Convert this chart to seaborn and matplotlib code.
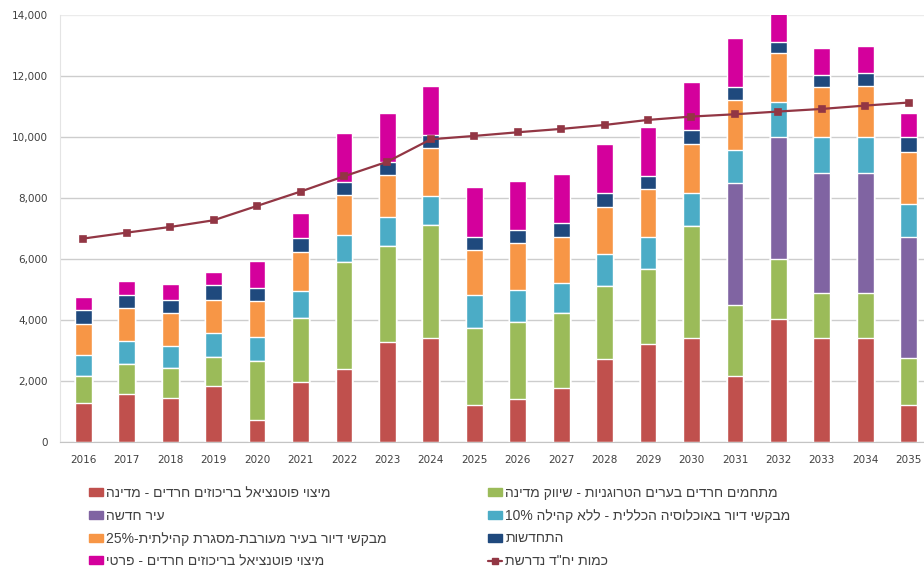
import re
import matplotlib
matplotlib.use("Agg")
import matplotlib.pyplot as plt
import seaborn as sns
from matplotlib.patches import Patch
from matplotlib.lines import Line2D
from matplotlib.ticker import FuncFormatter

# =============================================================================
#                              DATA
# =============================================================================
years = [str(y) for y in range(2016, 2036)]

state     = [1280, 1585, 1465, 1860, 730, 1990, 2390, 3280, 3410, 1225,
             1410, 1770, 2730, 3225, 3430, 2175, 4035, 3430, 3430, 1225]
hetero    = [895, 985, 985, 950, 1950, 2090, 3510, 3170, 3715, 2515,
             2545, 2460, 2395, 2450, 3665, 2325, 1965, 1480, 1480, 1530]
new_city  = [0, 0, 0, 0, 0, 0, 0, 0, 0, 0,
             0, 0, 0, 0, 0, 4015, 4025, 3930, 3930, 3965]
general   = [690, 755, 710, 785, 765, 890, 900, 930, 950, 1090,
             1040, 1005, 1050, 1045, 1090, 1070, 1145, 1160, 1180, 1095]
mixed     = [1005, 1070, 1070, 1070, 1190, 1255, 1310, 1385, 1565, 1475,
             1530, 1510, 1555, 1575, 1595, 1640, 1585, 1640, 1665, 1715]
renewal   = [470, 435, 435, 495, 435, 465, 435, 440, 435, 440,
             435, 460, 455, 450, 460, 415, 385, 405, 415, 470]
private   = [435, 470, 515, 435, 875, 825, 1585, 1605, 1605, 1615,
             1620, 1595, 1595, 1585, 1585, 1605, 960, 875, 895, 810]
required  = [6680, 6875, 7060, 7280, 7750, 8220, 8720, 9200, 9935, 10045,
             10165, 10275, 10405, 10570, 10680, 10755, 10845, 10930, 11040, 11140]

lbl_state   = "מיצוי פוטנציאל בריכוזים חרדים - מדינה"
lbl_newcity = "עיר חדשה"
lbl_mixed   = "מבקשי דיור בעיר מעורבת-מסגרת קהילתית-25%"
lbl_private = "מיצוי פוטנציאל בריכוזים חרדים - פרטי"
lbl_hetero  = "מתחמים חרדים בערים הטרוגניות - שיווק מדינה"
lbl_general = "מבקשי דיור באוכלוסיה הכללית - ללא קהילה 10%"
lbl_renewal = "התחדשות"
lbl_req     = 'כמות יח"ד נדרשת'

c_state, c_hetero, c_newcity = "#c0504d", "#9bbb59", "#8064a2"
c_general, c_mixed, c_renewal = "#4bacc6", "#f79646", "#1f497d"
c_private, c_line = "#d4009c", "#923644"


def rtl(s):
    # matplotlib has no bidi: flip the string, keep number runs readable
    r = s[::-1]
    return re.sub(r"[0-9%]+", lambda m: m.group(0)[::-1], r)


# =============================================================================
#                              PLOT
# =============================================================================
sns.set_style("white")
plt.rcParams["font.family"] = ["DejaVu Sans"]

fig = plt.figure(figsize=(9.24, 5.70), dpi=100)
ax = fig.add_axes([60 / 924, 1 - 442.3 / 570, 872 / 924, 427 / 570])

series = [state, hetero, new_city, general, mixed, renewal, private]
colors = [c_state, c_hetero, c_newcity, c_general, c_mixed, c_renewal, c_private]

# cumulative tops, drawn tallest first so the segments stack
cum = []
run = [0] * len(years)
for s in series:
    run = [a + b for a, b in zip(run, s)]
    cum.append(run)

for tops, col in reversed(list(zip(cum, colors))):
    sns.barplot(x=years, y=tops, color=col, saturation=1, width=0.385,
                errorbar=None, ax=ax, zorder=2)

sns.pointplot(x=years, y=required, color=c_line, marker="s", markersize=4.5,
              linewidth=1.6, errorbar=None, ax=ax, zorder=4)

ax.set_xlim(-0.536, 19.536)
ax.set_ylim(0, 14000)
ax.set_yticks(range(0, 14001, 2000))
ax.yaxis.set_major_formatter(FuncFormatter(lambda v, p: f"{int(v):,}"))
ax.set_xlabel("")
ax.set_ylabel("")
ax.yaxis.grid(True, color="#cdcdcd", linewidth=1)
ax.set_axisbelow(True)
ax.get_ygridlines()[-1].set_color("#ebebeb")
for sp in ["top", "right"]:
    ax.spines[sp].set_visible(False)
ax.spines["left"].set_color("#e4e4e4")
ax.spines["bottom"].set_color("#c4c4c4")
ax.tick_params(axis="y", length=0, pad=9, labelsize=7.5, labelcolor="#404040")
ax.tick_params(axis="x", length=0, pad=9, labelsize=7.5, labelcolor="#404040")

# legend in two columns, like the original
left_items = [(c_state, lbl_state), (c_newcity, lbl_newcity),
              (c_mixed, lbl_mixed), (c_private, lbl_private)]
right_items = [(c_hetero, lbl_hetero), (c_general, lbl_general),
               (c_renewal, lbl_renewal)]

leg_kw = dict(loc="upper left", frameon=False, handlelength=1.0,
              handleheight=0.5, handletextpad=0.25, labelspacing=0.63,
              borderpad=0, borderaxespad=0, labelcolor="#404040",
              prop={"family": ["Liberation Sans", "DejaVu Sans"], "size": 10})

h1 = [Patch(color=c) for c, _ in left_items]
fig.legend(h1, [rtl(t) for _, t in left_items],
           bbox_to_anchor=(89 / 924, 1 - 486 / 570), **leg_kw)

h2 = [Patch(color=c) for c, _ in right_items]
h2.append(Line2D([], [], color=c_line, marker="s", markersize=4, linewidth=1.6))
fig.legend(h2, [rtl(t) for _, t in right_items] + [rtl(lbl_req)],
           bbox_to_anchor=(488 / 924, 1 - 486 / 570), **leg_kw)

fig.savefig("out.png", dpi=100)
